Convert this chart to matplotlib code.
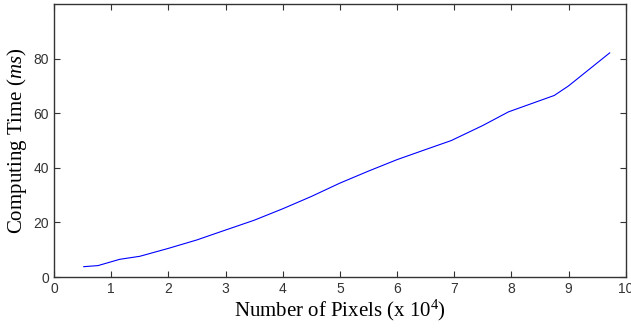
import matplotlib
matplotlib.use('Agg')
import matplotlib.pyplot as plt

plt.rcParams['mathtext.fontset'] = 'custom'
plt.rcParams['mathtext.it'] = 'Liberation Serif:italic'
plt.rcParams['mathtext.rm'] = 'Liberation Serif'

# values
pixels = [0.52, 0.77, 1.15, 1.5, 2.0, 2.5, 2.9, 3.5, 4.0, 4.5, 5.0, 5.5, 6.0, 6.5, 6.95, 7.5, 7.95, 8.75, 9.0, 9.72]
time_ms = [3.8, 4.2, 6.5, 7.6, 10.5, 13.6, 16.5, 20.8, 25.0, 29.5, 34.4, 38.8, 43.0, 46.7, 50.0, 55.5, 60.5, 66.5, 70.0, 82.1]
xticks = list(range(0, 11))
yticks = [0, 20, 40, 60, 80]

fig = plt.figure(figsize=(6.31, 3.33), dpi=100)
ax = fig.add_axes([0.0856, 0.168, 0.906, 0.82])
ax.plot(pixels, time_ms, color='blue', linewidth=0.8)  # computing time curve

ax.set_xlim(0, 10)
ax.set_ylim(0, 100)
ax.set_xticks(xticks)
ax.set_yticks(yticks)
ax.tick_params(direction='in', top=True, right=True, labelsize=10, length=4, colors='#333333')
for s in ax.spines.values():
    s.set_color('#333333')
    s.set_linewidth(1.0)
for lbl in ax.get_xticklabels() + ax.get_yticklabels():
    lbl.set_family('Liberation Sans')

ax.set_xlabel(r'Number of Pixels (x 10$^4$)', family='Liberation Serif', fontsize=15, labelpad=1)
ax.set_ylabel(r'Computing Time ($\mathit{ms}$)', family='Liberation Serif', fontsize=15, labelpad=3)

fig.savefig('out.png', dpi=100)
